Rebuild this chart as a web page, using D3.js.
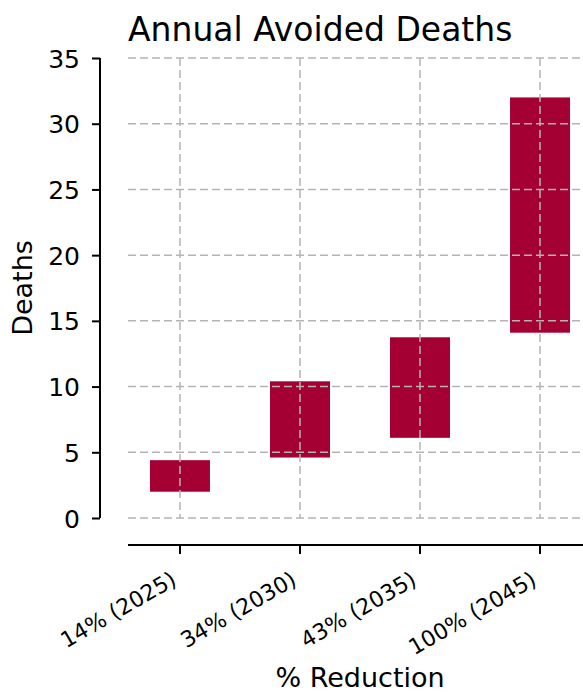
<!DOCTYPE html>
<html>
<head>
<meta charset="utf-8">
<script src="https://cdn.jsdelivr.net/npm/d3@7"></script>
<style>
  body { margin: 0; background: #fff; }
  svg { display: block; font-family: "DejaVu Sans", sans-serif; }
</style>
</head>
<body>
<script>
// Chart data
var categories = ["14% (2025)", "34% (2030)", "43% (2035)", "100% (2045)"];
var lowValues = [2.0, 4.6, 6.1, 14.1];
var highValues = [4.4, 10.4, 13.75, 32.0];
var yTicks = [0, 5, 10, 15, 20, 25, 30, 35];

var svgWidth = 583;
var svgHeight = 693;

var plot = { left: 128, right: 592, top: 58, bottom: 518 };

var svg = d3.select("body")
  .append("svg")
  .attr("width", svgWidth)
  .attr("height", svgHeight);

var data = categories.map(function (c, i) {
  return { cat: c, low: lowValues[i], high: highValues[i] };
});

// scales
var xScale = d3.scaleBand()
  .domain(categories)
  .range([plot.left, plot.right])
  .paddingInner(0.5)
  .paddingOuter(0.183);

var yScale = d3.scaleLinear()
  .domain([0, 35])
  .range([plot.bottom, plot.top]);

var barColor = "#a50034";
var gridColor = "#b4b4b4";

// bars
svg.append("g")
  .selectAll("rect")
  .data(data)
  .enter().append("rect")
    .attr("x", d => xScale(d.cat))
    .attr("width", xScale.bandwidth())
    .attr("y", d => yScale(d.high))
    .attr("height", d => yScale(d.low) - yScale(d.high))
    .attr("fill", barColor);

// grid (drawn over bars)
var grid = svg.append("g")
  .attr("stroke", gridColor)
  .attr("stroke-width", 1.5)
  .attr("stroke-dasharray", "8,4");

grid.selectAll("line.h")
  .data(yTicks)
  .enter().append("line")
    .attr("class", "h")
    .attr("x1", plot.left)
    .attr("x2", plot.right)
    .attr("y1", d => yScale(d))
    .attr("y2", d => yScale(d));

grid.selectAll("line.v")
  .data(categories)
  .enter().append("line")
    .attr("class", "v")
    .attr("x1", d => xScale(d) + xScale.bandwidth() / 2)
    .attr("x2", d => xScale(d) + xScale.bandwidth() / 2)
    .attr("y1", plot.top)
    .attr("y2", plot.bottom);

// y axis (offset spine)
var leftAxis = d3.axisLeft(yScale)
  .tickValues(yTicks)
  .tickSize(8)
  .tickPadding(12);

var yAxis = svg.append("g")
  .attr("transform", "translate(100,0)")
  .call(leftAxis);

// x axis (offset spine)
var bottomAxis = d3.axisBottom(xScale)
  .tickSize(9)
  .tickPadding(4);

var xAxis = svg.append("g")
  .attr("transform", "translate(0,545)")
  .call(bottomAxis);

[xAxis, yAxis].forEach(function (ax) {
  ax.select(".domain").attr("stroke", "#000").attr("stroke-width", 2);
  ax.selectAll(".tick line").attr("stroke", "#000").attr("stroke-width", 2);
  ax.selectAll("text")
    .attr("fill", "#000")
    .attr("font-family", "DejaVu Sans, sans-serif");
});

// plain spines, no outer ticks
yAxis.select(".domain").attr("d", "M0," + plot.top + "V" + plot.bottom);
xAxis.select(".domain").attr("d", "M" + plot.left + ",0H" + plot.right);

yAxis.selectAll("text").attr("font-size", "25px").attr("dy", "0.36em");

xAxis.selectAll(".tick text")
  .attr("text-anchor", "end")
  .attr("x", 0)
  .attr("y", 0)
  .attr("dy", "0")
  .attr("transform", "translate(-2,39) rotate(-30)")
  .attr("font-size", "22px");

// title
svg.append("text")
  .attr("x", plot.left)
  .attr("y", 41)
  .attr("font-size", "33px")
  .attr("fill", "#000")
  .text("Annual Avoided Deaths");

// axis labels
svg.append("text")
  .attr("x", (plot.left + plot.right) / 2)
  .attr("y", 687)
  .attr("text-anchor", "middle")
  .attr("font-size", "27px")
  .attr("fill", "#000")
  .text("% Reduction");

svg.append("text")
  .attr("transform", "translate(32," + ((plot.top + plot.bottom) / 2) + ") rotate(-90)")
  .attr("text-anchor", "middle")
  .attr("font-size", "27px")
  .attr("fill", "#000")
  .text("Deaths");
</script>
</body>
</html>
